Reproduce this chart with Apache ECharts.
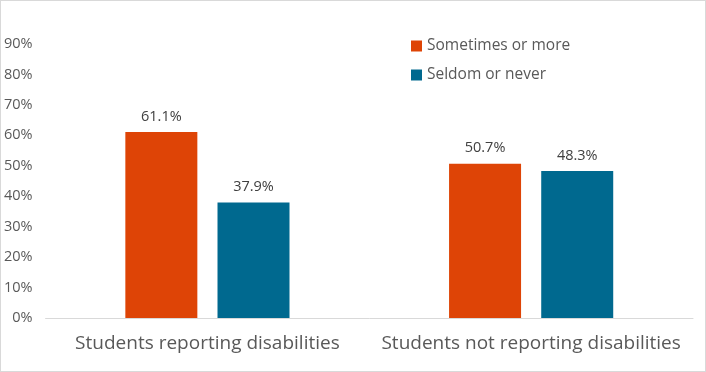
<!DOCTYPE html>
<html><head><meta charset="utf-8">
<script src="https://cdn.jsdelivr.net/npm/echarts@6/dist/echarts.min.js"></script>
<style>html,body{margin:0;padding:0;background:#fff}#c{width:704px;height:370px;border:1px solid #d9d9d9}</style>
</head><body><div id="c"></div>
<script>
const categories = ["Students reporting disabilities", "Students not reporting disabilities"];
const seriesNames = ["Sometimes or more", "Seldom or never"];
const sometimes = [61.1, 50.7];
const seldom = [37.9, 48.3];
const colors = ["#DE4406", "#00698F"];
const font = "'Open Sans', sans-serif";
const chart = echarts.init(document.getElementById('c'));
const lbl = {show:true, position:'top', distance:8, color:'#404040', fontSize:14.5, fontFamily:font, formatter:p=>p.value.toFixed(1)+'%'};
chart.setOption({
  animation:false,
  textStyle:{fontFamily:font},
  grid:{left:44, right:12, top:43, bottom:53},
  legend:{orient:'vertical', left:405, top:32, itemWidth:11, itemHeight:11, itemGap:13,
    icon:'rect', textStyle:{fontSize:15.5, color:'#595959', fontFamily:font}, data:seriesNames},
  xAxis:{type:'category', data:categories, axisTick:{show:false},
    axisLine:{lineStyle:{color:'#d9d9d9'}},
    axisLabel:{interval:0, fontSize:19, color:'#595959', margin:16, fontFamily:font}},
  yAxis:{type:'value', min:0, max:90, interval:10, splitLine:{show:false},
    axisLabel:{formatter:'{value}%', fontSize:14.5, color:'#595959', margin:13, fontFamily:font}},
  series:[
    {name:seriesNames[0], type:'bar', data:sometimes, barWidth:72, barGap:'28%', itemStyle:{color:colors[0]}, label:lbl},
    {name:seriesNames[1], type:'bar', data:seldom, barWidth:72, itemStyle:{color:colors[1]}, label:lbl}
  ]
});
</script></body></html>
